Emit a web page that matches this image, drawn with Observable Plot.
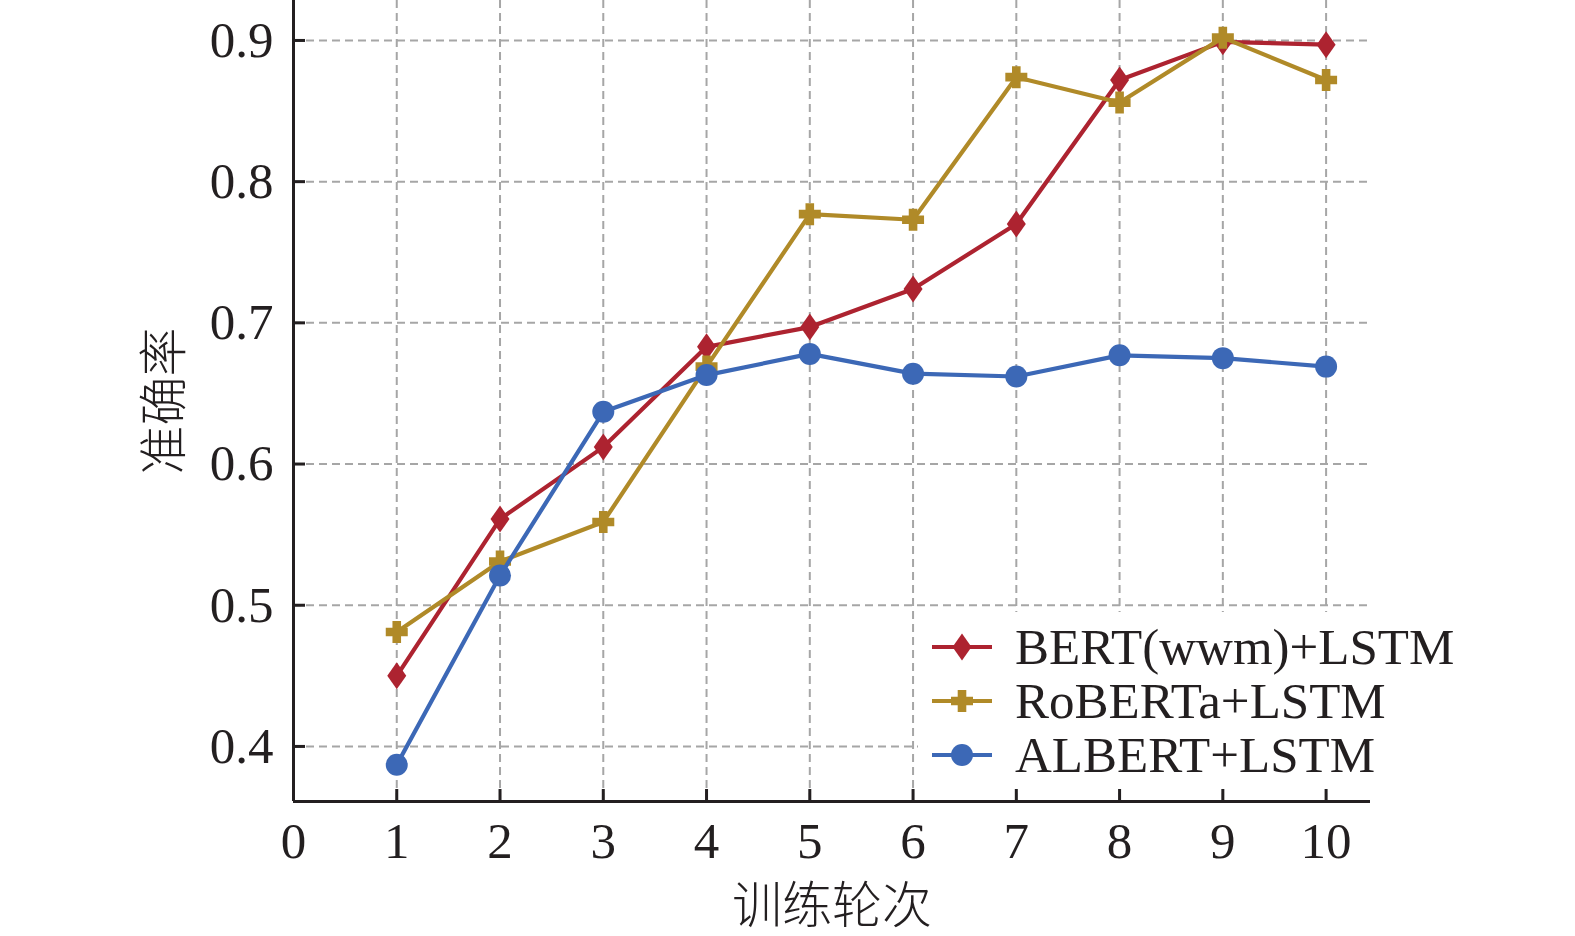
<!DOCTYPE html>
<html><head><meta charset="utf-8">
<script src="https://cdn.jsdelivr.net/npm/d3@7"></script>
<script src="https://cdn.jsdelivr.net/npm/@observablehq/plot@0.6"></script>
<style>
html,body{margin:0;padding:0;background:#fff;overflow:hidden;}
#chart{width:1575px;height:936px;}
#chart svg{display:block;}
</style>
</head><body><div id="chart"></div>
<script>
// ---- data ----
const epochs = [1, 2, 3, 4, 5, 6, 7, 8, 9, 10];
const seriesNames = ["BERT(wwm)+LSTM", "RoBERTa+LSTM", "ALBERT+LSTM"];
const bertValues    = [0.450, 0.561, 0.612, 0.683, 0.697, 0.724, 0.770, 0.872, 0.899, 0.897];
const robertaValues = [0.481, 0.531, 0.559, 0.669, 0.777, 0.773, 0.874, 0.856, 0.902, 0.872];
const albertValues  = [0.387, 0.521, 0.637, 0.663, 0.678, 0.664, 0.662, 0.677, 0.675, 0.669];
const xTicks = [0, 1, 2, 3, 4, 5, 6, 7, 8, 9, 10];
const yTicks = [0.4, 0.5, 0.6, 0.7, 0.8, 0.9];
const xLabel = "训练轮次";
const yLabel = "准确率";

// ---- styling ----
const colors = ["#ad2330", "#b08a28", "#3c68b6"];
const axisColor = "#231f20";
const gridColor = "#a6a6a6";
const serif = "'Liberation Serif', 'Times New Roman', serif";
const cjk = "'Noto Sans CJK SC', sans-serif";
const xDomain = [0, 10.43];
const yDomain = [0.361, 0.9283];

const diamondSym = {draw(c) { c.moveTo(0, -13.5); c.lineTo(9.5, 0); c.lineTo(0, 13.5); c.lineTo(-9.5, 0); c.closePath(); }};
const plusSym = {draw(c) {
  const a = 11, t = 4.3;
  c.moveTo(-t, -a); c.lineTo(t, -a); c.lineTo(t, -t); c.lineTo(a, -t); c.lineTo(a, t); c.lineTo(t, t);
  c.lineTo(t, a); c.lineTo(-t, a); c.lineTo(-t, t); c.lineTo(-a, t); c.lineTo(-a, -t); c.lineTo(-t, -t); c.closePath();
}};
const circleSym = {draw(c) { const r = 11; c.moveTo(r, 0); c.arc(0, 0, r, 0, 2 * Math.PI); c.closePath(); }};
const symbols = [diamondSym, plusSym, circleSym];

const allValues = [bertValues, robertaValues, albertValues];
const seriesData = allValues.map((vals, s) => epochs.map((e, i) => ({epoch: e, value: vals[i], series: seriesNames[s]})));

const tickLenX = (xDomain[1] - xDomain[0]) * 12 / 1077;
const tickLenY = (yDomain[1] - yDomain[0]) * 12 / 801;

const seriesMarks = seriesData.flatMap((d, s) => [
  Plot.line(d, {x: "epoch", y: "value", stroke: colors[s], strokeWidth: 4.2}),
  Plot.dot(d, {x: "epoch", y: "value", symbol: symbols[s], fill: colors[s], stroke: "none", r: 10})
]);

const plot = Plot.plot({
  width: 1575, height: 936,
  marginLeft: 293, marginRight: 205, marginTop: 0, marginBottom: 135,
  x: {domain: xDomain},
  y: {domain: yDomain},
  style: {fontFamily: serif, background: "white", color: axisColor, overflow: "visible"},
  marks: [
    Plot.ruleX(epochs, {x: d => d, stroke: gridColor, strokeWidth: 2, strokeDasharray: "8,5"}),
    Plot.ruleY(yTicks, {y: d => d, stroke: gridColor, strokeWidth: 2, strokeDasharray: "8,5"}),
    ...seriesMarks,
    Plot.ruleX([xDomain[0]], {stroke: axisColor, strokeWidth: 3}),
    Plot.ruleY([yDomain[0]], {stroke: axisColor, strokeWidth: 3}),
    Plot.ruleY(yTicks, {y: d => d, x1: xDomain[0], x2: xDomain[0] + tickLenX, stroke: axisColor, strokeWidth: 3}),
    Plot.ruleX(xTicks.slice(1), {x: d => d, y1: yDomain[0], y2: yDomain[0] + tickLenY, stroke: axisColor, strokeWidth: 3}),
    Plot.axisY(yTicks, {tickSize: 0, tickPadding: 20, fontSize: 51, tickFormat: d3.format(".1f"), label: null, fill: axisColor}),
    Plot.axisX(xTicks, {tickSize: 0, tickPadding: 20, fontSize: 51, label: null, fill: axisColor}),
    Plot.text([yLabel], {text: d => d, frameAnchor: "left", dx: -128, rotate: -90, textAnchor: "middle", fontSize: 49, fontFamily: cjk, fontWeight: 300, lineAnchor: "middle", fill: axisColor}),
    Plot.text([xLabel], {text: d => d, frameAnchor: "bottom", dy: 105, textAnchor: "middle", fontSize: 50, fontFamily: cjk, fontWeight: 300, lineAnchor: "middle", fill: axisColor})
  ]
});

document.getElementById("chart").appendChild(plot);

// ---- legend (inside plot, bottom right) ----
const svg = d3.select(plot);
const lg = svg.append("g");
lg.append("rect").attr("x", 918).attr("y", 612).attr("width", 552).attr("height", 176).attr("fill", "white");
seriesNames.forEach((name, i) => {
  const cy = 647 + i * 54;
  lg.append("line").attr("x1", 932).attr("x2", 992).attr("y1", cy).attr("y2", cy)
    .attr("stroke", colors[i]).attr("stroke-width", 4.2);
  const p = d3.path(); symbols[i].draw(p);
  lg.append("path").attr("d", p.toString()).attr("transform", `translate(962,${cy})`).attr("fill", colors[i]);
  lg.append("text").attr("x", 1015).attr("y", cy + 17).attr("font-size", 51)
    .attr("text-anchor", "start")
    .attr("font-family", serif).attr("fill", axisColor).text(name);
});
</script>
</body></html>
